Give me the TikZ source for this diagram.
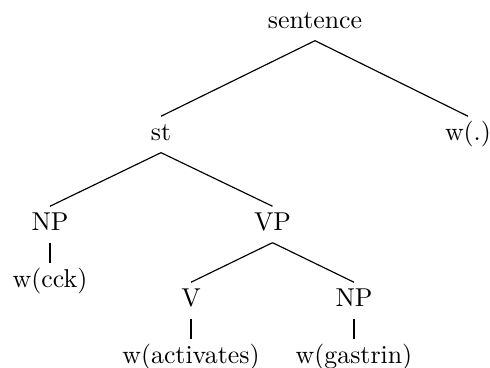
\documentclass[tikz,border=0pt]{standalone}
\begin{document}
\begin{tikzpicture}[x=0.387pt,y=-0.387pt,
  lbl/.style={anchor=base, inner ysep=2.5pt, text height=6.5pt, text depth=2.2pt},
  edge/.style={line width=0.45pt},
  leaf/.style={line width=1.1pt}]
\useasboundingbox (0,0) rectangle (490,367);
\node[lbl] (s) at (315,28) {sentence};
\node[lbl] (st) at (161,140) {st};
\node[lbl] (wp) at (468,140) {w(.)};
\node[lbl] (np1) at (50,230) {NP};
\node[lbl] (vp) at (272.5,230) {VP};
\node[lbl] (wcck) at (50,287) {w(cck)};
\node[lbl] (v) at (191,306) {V};
\node[lbl] (np2) at (354,306) {NP};
\node[lbl] (wact) at (191,363) {w(activates)};
\node[lbl] (wgas) at (354,363) {w(gastrin)};
\draw[edge] (s.south) -- (st.north);
\draw[edge] (s.south) -- (wp.north);
\draw[edge] (st.south) -- (np1.north);
\draw[edge] (st.south) -- (vp.north);
\draw[edge] (vp.south) -- (v.north);
\draw[edge] (vp.south) -- (np2.north);
\draw[leaf] (np1.south) -- (wcck.north);
\draw[leaf] (v.south) -- (wact.north);
\draw[leaf] (np2.south) -- (wgas.north);
\end{tikzpicture}
\end{document}
